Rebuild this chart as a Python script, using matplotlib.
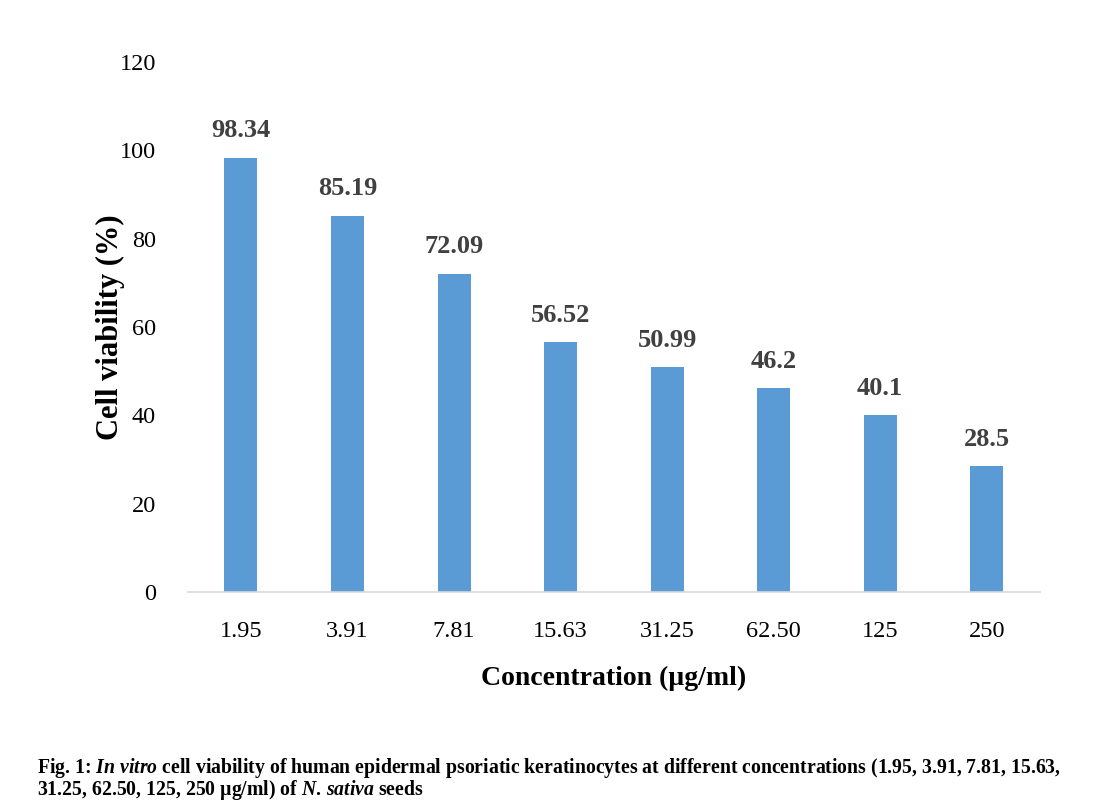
import matplotlib
matplotlib.use("Agg")
import matplotlib.pyplot as plt

categories = ["1.95", "3.91", "7.81", "15.63", "31.25", "62.50", "125", "250"]
values = [98.34, 85.19, 72.09, 56.52, 50.99, 46.2, 40.1, 28.5]
value_labels = ["98.34", "85.19", "72.09", "56.52", "50.99", "46.2", "40.1", "28.5"]
yticks = [0, 20, 40, 60, 80, 100, 120]

plt.rcParams['font.family'] = ['Liberation Serif', 'DejaVu Serif']
plt.rcParams['mathtext.fontset'] = 'custom'
plt.rcParams['mathtext.rm'] = 'Liberation Serif:bold'
plt.rcParams['mathtext.it'] = 'Liberation Serif:italic:bold'
plt.rcParams['mathtext.bf'] = 'Liberation Serif:bold'

fig = plt.figure(figsize=(11.04, 8.05), dpi=100)
ax = fig.add_axes([0.170, 0.2646, 0.772, 0.6584])

x = range(len(categories))
ax.bar(x, values, width=0.31, color="#5B9BD5", zorder=2)
for xi, v, lab in zip(x, values, value_labels):
    ax.annotate(lab, (xi, v), xytext=(0, 11), textcoords="offset points",
                ha="center", va="bottom", fontsize=19, fontweight="bold", color="#404040")

ax.set_xlim(-0.5, len(categories) - 0.5)
ax.set_ylim(0, 120)
ax.set_yticks(yticks)
ax.set_xticks(list(x))
ax.set_xticklabels(categories)
ax.tick_params(axis="both", length=0, labelsize=17.5, colors="black")
ax.tick_params(axis="y", pad=23)
ax.tick_params(axis="x", pad=21)
for s in ["top", "right", "left"]:
    ax.spines[s].set_visible(False)
ax.spines["bottom"].set_color("#D9D9D9")
ax.spines["bottom"].set_linewidth(1.2)

ax.set_ylabel("Cell viability (%)", fontsize=22, fontweight="bold")
ax.yaxis.set_label_coords(-0.074, 0.5)
ax.set_xlabel("Concentration (µg/ml)", fontsize=20, fontweight="bold", labelpad=17)

cap1 = r"Fig. 1: $\mathit{In\ vitro}$ cell viability of human epidermal psoriatic keratinocytes at different concentrations (1.95, 3.91, 7.81, 15.63,"
cap2 = r"31.25, 62.50, 125, 250 µg/ml) of $\mathit{N.}\,\mathit{sativa}$ seeds"
fig.text(37/1104, 1 - 768/805, cap1, fontsize=14.2, fontweight="bold", ha="left", va="center")
fig.text(37/1104, 1 - 790/805, cap2, fontsize=14.2, fontweight="bold", ha="left", va="center")

fig.savefig("out.png", dpi=100)
